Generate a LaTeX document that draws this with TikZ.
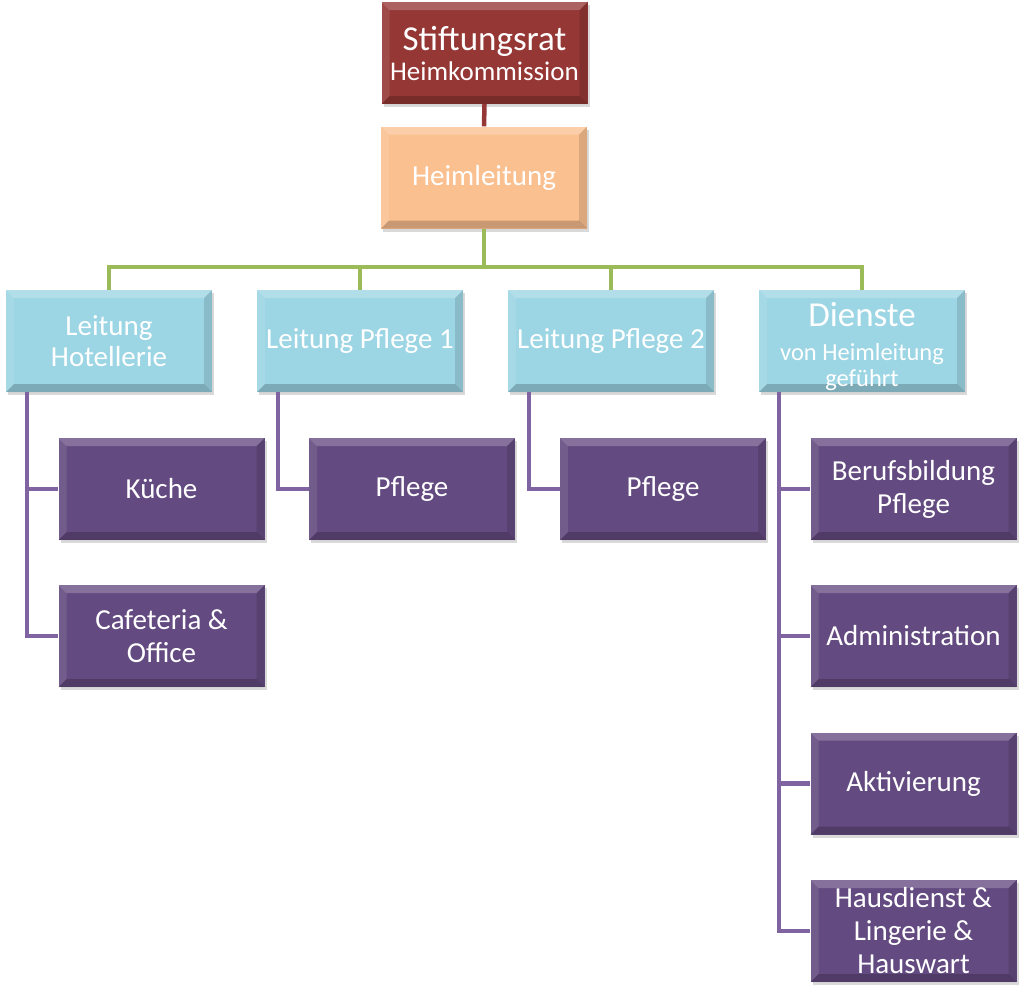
\documentclass[tikz,border=0pt]{standalone}
\usepackage{fontspec}
\setmainfont{Carlito}
\usetikzlibrary{shadows,calc}
\definecolor{cred}{HTML}{953735}
\definecolor{cpeach}{HTML}{FAC090}
\definecolor{ccyan}{HTML}{9CD5E4}
\definecolor{cpurp}{HTML}{634A80}
\definecolor{lgreen}{HTML}{9BBB59}
\definecolor{lpurp}{HTML}{8064A2}
\newcommand{\zline}[3]{\makebox[0pt]{\raisebox{#1}{\fontsize{#2}{#2}\selectfont #3}}}
\tikzset{
  bevel/.style={path picture={
    \coordinate (nw) at (path picture bounding box.north west);
    \coordinate (ne) at (path picture bounding box.north east);
    \coordinate (sw) at (path picture bounding box.south west);
    \coordinate (se) at (path picture bounding box.south east);
    \fill[white,opacity=.22] (nw) -- (ne) -- ([xshift=-8pt,yshift=-8pt]ne) -- ([xshift=8pt,yshift=-8pt]nw) -- cycle;
    \fill[white,opacity=.10] (nw) -- (sw) -- ([xshift=8pt,yshift=8pt]sw) -- ([xshift=8pt,yshift=-8pt]nw) -- cycle;
    \fill[black,opacity=.12] (ne) -- (se) -- ([xshift=-8pt,yshift=8pt]se) -- ([xshift=-8pt,yshift=-8pt]ne) -- cycle;
    \fill[black,opacity=.20] (sw) -- (se) -- ([xshift=-8pt,yshift=8pt]se) -- ([xshift=8pt,yshift=8pt]sw) -- cycle;
  }},
  box/.style={rectangle, minimum width=206pt, minimum height=102pt, inner sep=2pt,
    align=center, text=white, font=\fontsize{29}{33}\selectfont, bevel,
    drop shadow={shadow xshift=2pt, shadow yshift=-3pt, opacity=.3}},
  redbox/.style={box, fill=cred},
  peachbox/.style={box, fill=cpeach},
  cyanbox/.style={box, fill=ccyan, font=\fontsize{29}{31}\selectfont},
  purpbox/.style={box, fill=cpurp},
  gline/.style={draw=lgreen, line width=4.5pt},
  pline/.style={draw=lpurp, line width=4.5pt},
  rline/.style={draw=cred, line width=4.5pt},
}
\begin{document}
\begin{tikzpicture}[x=1pt,y=-1pt]
\useasboundingbox (0,0) rectangle (1024,994);
\coordinate (gbar) at (484,267);
% nodes
\node[redbox] (stift) at (484.5,53) {\fontsize{35}{36}\selectfont Stiftungsrat\\[-3pt]\fontsize{27}{30}\selectfont Heimkommission};
\node[peachbox] (heim) at (484,177.5) {Heimleitung};
\node[cyanbox] (hot) at (109,341) {Leitung\\Hotellerie};
\node[cyanbox] (pf1) at (360,341) {Leitung Pflege 1};
\node[cyanbox] (pf2) at (611,341) {Leitung Pflege 2};
\node[cyanbox] (die) at (862,341) {\smash{\zline{15pt}{35}{Dienste}\zline{-19pt}{24.5}{von Heimleitung}\zline{-45pt}{24.5}{geführt}}};
\node[purpbox] (kue) at (161.5,489) {Küche};
\node[purpbox] (caf) at (161.5,636) {Cafeteria \&\\Office};
\node[purpbox] (p1) at (412,489) {Pflege};
\node[purpbox] (p2) at (663,489) {Pflege};
\node[purpbox] (ber) at (913.5,489) {Berufsbildung\\Pflege};
\node[purpbox] (adm) at (913.5,636) {Administration};
\node[purpbox] (akt) at (913.5,783.5) {Aktivierung};
\node[purpbox] (hau) at (913.5,931) {Hausdienst \&\\Lingerie \&\\Hauswart};
% connectors
\draw[rline] (stift.south) -- (heim.north);
\draw[gline] (heim.south) -- (gbar);
\draw[gline] (gbar) -| (hot.north);
\draw[gline] (gbar) -| (pf1.north);
\draw[gline] (gbar) -| (pf2.north);
\draw[gline] (gbar) -| (die.north);
\draw[pline] ([xshift=-82pt]hot.south) |- (kue.west);
\draw[pline] ([xshift=-82pt]hot.south) |- (caf.west);
\draw[pline] ([xshift=-82pt]pf1.south) |- (p1.west);
\draw[pline] ([xshift=-82pt]pf2.south) |- (p2.west);
\draw[pline] ([xshift=-83pt]die.south) |- (ber.west);
\draw[pline] ([xshift=-83pt]die.south) |- (adm.west);
\draw[pline] ([xshift=-83pt]die.south) |- (akt.west);
\draw[pline] ([xshift=-83pt]die.south) |- (hau.west);
\end{tikzpicture}
\end{document}
